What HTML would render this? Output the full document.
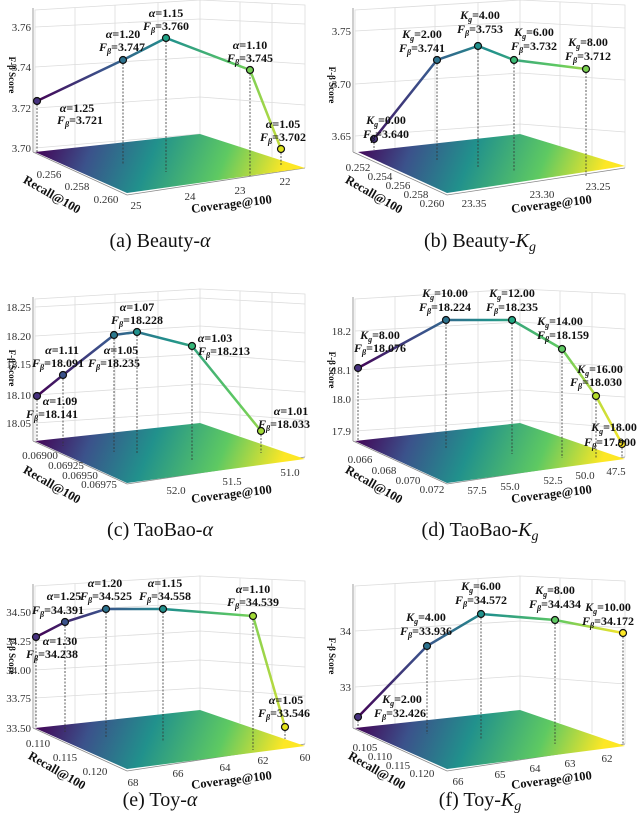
<!DOCTYPE html>
<html><head><meta charset="utf-8"><style>
body{margin:0;background:#fff}
svg{display:block}
text{font-family:"Liberation Serif",serif}
.t{font-size:11px;fill:#333}
.l{font-size:12px;font-weight:bold;fill:#111}
.ax{font-size:12.5px;font-weight:bold;fill:#111}
.zl{font-size:9px;font-weight:bold;fill:#111}
.cap{font-size:20px;fill:#111}
.g{stroke:#dcdcdc;stroke-width:0.8;fill:none}
.d{stroke:#333;stroke-width:0.8;stroke-dasharray:2 1.5;fill:none}
.p{stroke:#111;stroke-width:1.2}
</style></head><body>
<svg width="640" height="834" viewBox="0 0 640 834" xmlns="http://www.w3.org/2000/svg">
<defs>
<linearGradient id="v" gradientUnits="userSpaceOnUse" x1="35" y1="0" x2="305" y2="0">
<stop offset="0" stop-color="#440154"/><stop offset="0.25" stop-color="#3b528b"/><stop offset="0.5" stop-color="#21918c"/><stop offset="0.75" stop-color="#5ec962"/><stop offset="1" stop-color="#fde725"/>
</linearGradient>
<linearGradient id="f" gradientUnits="userSpaceOnUse" x1="40" y1="135" x2="285" y2="235">
<stop offset="0" stop-color="#440154"/><stop offset="0.2" stop-color="#3b528b"/><stop offset="0.42" stop-color="#21918c"/><stop offset="0.68" stop-color="#5ec962"/><stop offset="0.9" stop-color="#fde725"/>
</linearGradient>
<g id="box1">
<path class="g" d="M35,152 L35,10 L200,0 L305,5 L305,168 M200,0 L200,134 M35,10 L200,0"/>
<path class="g" d="M75,148 L75,8 M115,143 L115,5 M158,139 L158,3 M240,147 L240,2 M272,157 L272,4"/>
<path stroke="#888" stroke-width="0.8" fill="none" d="M33,152 L33,8 M33,152 L127,195 L305,168"/>
</g>
</defs>

<!-- Panel a -->
<g transform="translate(0,0)">
<use href="#box1"/>
<path class="g" d="M35,27 L200,19 L305,24 M35,67 L200,57 L305,64 M35,108 L200,97 L305,105 M35,148 L200,134"/>
<polygon points="35,152 200,134 305,168 127,193" fill="url(#f)"/>
<text class="t" x="31" y="31" text-anchor="end">3.76</text>
<text class="t" x="31" y="71" text-anchor="end">3.74</text>
<text class="t" x="31" y="112" text-anchor="end">3.72</text>
<text class="t" x="31" y="152" text-anchor="end">3.70</text>
<text class="zl" transform="translate(9,75) rotate(90)" text-anchor="middle">F-β Score</text>
<path class="d" d="M37,101V152 M123,60V165 M166,38V172 M250,70V176 M281,149V166"/>
<polyline points="37,101 123,60 166,38 250,70 281,149" fill="none" stroke="url(#v)" stroke-width="2.5"/>
<circle class="p" cx="37" cy="101" r="3.5" fill="#46317e"/><circle class="p" cx="123" cy="60" r="3.5" fill="#2c728e"/><circle class="p" cx="166" cy="38" r="3.5" fill="#20a386"/><circle class="p" cx="250" cy="70" r="3.5" fill="#75d054"/><circle class="p" cx="281" cy="149" r="3.5" fill="#dde318"/>
<g class="l" text-anchor="middle">
<text x="77" y="112"><tspan font-style="italic">α</tspan>=1.25</text><text x="80" y="124"><tspan font-style="italic">F</tspan><tspan font-size="8" dy="3" font-style="italic">β</tspan><tspan dy="-3">=3.721</tspan></text>
<text x="123" y="38"><tspan font-style="italic">α</tspan>=1.20</text><text x="122" y="51"><tspan font-style="italic">F</tspan><tspan font-size="8" dy="3" font-style="italic">β</tspan><tspan dy="-3">=3.747</tspan></text>
<text x="166" y="17"><tspan font-style="italic">α</tspan>=1.15</text><text x="166" y="30"><tspan font-style="italic">F</tspan><tspan font-size="8" dy="3" font-style="italic">β</tspan><tspan dy="-3">=3.760</tspan></text>
<text x="250" y="49"><tspan font-style="italic">α</tspan>=1.10</text><text x="250" y="62"><tspan font-style="italic">F</tspan><tspan font-size="8" dy="3" font-style="italic">β</tspan><tspan dy="-3">=3.745</tspan></text>
<text x="283" y="128"><tspan font-style="italic">α</tspan>=1.05</text><text x="283" y="141"><tspan font-style="italic">F</tspan><tspan font-size="8" dy="3" font-style="italic">β</tspan><tspan dy="-3">=3.702</tspan></text>
</g>
<g class="t" text-anchor="middle"><text x="49" y="178">0.256</text><text x="77" y="190">0.258</text><text x="106" y="203">0.260</text>
<text x="136" y="209">25</text><text x="190" y="200">24</text><text x="240" y="194">23</text><text x="285" y="185">22</text></g>
<text class="ax" transform="translate(50,198) rotate(30)" text-anchor="middle">Recall@100</text>
<text class="ax" transform="translate(232,208) rotate(-7)" text-anchor="middle">Coverage@100</text>
<text class="cap" x="160" y="247" text-anchor="middle">(a) Beauty-<tspan font-style="italic">α</tspan></text>
</g>

<!-- Panel b -->
<g transform="translate(320,0)">
<use href="#box1"/>
<path class="g" d="M35,31 L200,22 L305,28 M35,84 L200,73 L305,80 M35,136 L200,124 L305,132"/>
<polygon points="38,152 200,134 305,166 127,193" fill="url(#f)"/>
<text class="t" x="31" y="35" text-anchor="end">3.75</text>
<text class="t" x="31" y="88" text-anchor="end">3.70</text>
<text class="t" x="31" y="140" text-anchor="end">3.65</text>
<text class="zl" transform="translate(9,85) rotate(90)" text-anchor="middle">F-β Score</text>
<path class="d" d="M54,139V150 M117,60V160 M158,46V168 M194,60V172 M266,69V176"/>
<polyline points="54,139 117,60 158,46 194,60 266,69" fill="none" stroke="url(#v)" stroke-width="2.5"/>
<circle class="p" cx="54" cy="139" r="3.5" fill="#46317e"/><circle class="p" cx="117" cy="60" r="3.5" fill="#2c728e"/><circle class="p" cx="158" cy="46" r="3.5" fill="#21918c"/><circle class="p" cx="194" cy="60" r="3.5" fill="#3bbb75"/><circle class="p" cx="266" cy="69" r="3.5" fill="#7ad151"/>
<g class="l" text-anchor="middle">
<text x="66" y="124"><tspan font-style="italic">K</tspan><tspan font-size="8" dy="3" font-style="italic">g</tspan><tspan dy="-3">=0.00</tspan></text><text x="66" y="138"><tspan font-style="italic">F</tspan><tspan font-size="8" dy="3" font-style="italic">β</tspan><tspan dy="-3">=3.640</tspan></text>
<text x="102" y="38"><tspan font-style="italic">K</tspan><tspan font-size="8" dy="3" font-style="italic">g</tspan><tspan dy="-3">=2.00</tspan></text><text x="102" y="52"><tspan font-style="italic">F</tspan><tspan font-size="8" dy="3" font-style="italic">β</tspan><tspan dy="-3">=3.741</tspan></text>
<text x="160" y="19"><tspan font-style="italic">K</tspan><tspan font-size="8" dy="3" font-style="italic">g</tspan><tspan dy="-3">=4.00</tspan></text><text x="160" y="33"><tspan font-style="italic">F</tspan><tspan font-size="8" dy="3" font-style="italic">β</tspan><tspan dy="-3">=3.753</tspan></text>
<text x="214" y="36"><tspan font-style="italic">K</tspan><tspan font-size="8" dy="3" font-style="italic">g</tspan><tspan dy="-3">=6.00</tspan></text><text x="214" y="50"><tspan font-style="italic">F</tspan><tspan font-size="8" dy="3" font-style="italic">β</tspan><tspan dy="-3">=3.732</tspan></text>
<text x="268" y="46"><tspan font-style="italic">K</tspan><tspan font-size="8" dy="3" font-style="italic">g</tspan><tspan dy="-3">=8.00</tspan></text><text x="268" y="60"><tspan font-style="italic">F</tspan><tspan font-size="8" dy="3" font-style="italic">β</tspan><tspan dy="-3">=3.712</tspan></text>
</g>
<g class="t" text-anchor="middle"><text x="38" y="171">0.252</text><text x="60" y="180">0.254</text><text x="78" y="189">0.256</text><text x="96" y="198">0.258</text><text x="112" y="207">0.260</text>
<text x="154" y="207">23.35</text><text x="222" y="198">23.30</text><text x="278" y="190">23.25</text></g>
<text class="ax" transform="translate(52,198) rotate(30)" text-anchor="middle">Recall@100</text>
<text class="ax" transform="translate(232,208) rotate(-7)" text-anchor="middle">Coverage@100</text>
<text class="cap" x="160" y="247" text-anchor="middle">(b) Beauty-<tspan font-style="italic">K</tspan><tspan font-style="italic" font-size="14" dy="4">g</tspan></text>
</g>

<!-- Panel c -->
<g transform="translate(0,278)">
<g transform="translate(0,11)"><use href="#box1"/></g>
<path class="g" d="M35,29 L200,20 L305,26 M35,58 L200,48 L305,55 M35,86 L200,76 L305,84 M35,117 L200,106 L305,114 M35,145 L200,134 L305,142"/>
<g transform="translate(0,11)"><polygon points="35,152 200,134 305,170 127,194" fill="url(#f)"/></g>
<text class="t" x="31" y="33" text-anchor="end">18.25</text>
<text class="t" x="31" y="62" text-anchor="end">18.20</text>
<text class="t" x="31" y="90" text-anchor="end">18.15</text>
<text class="t" x="31" y="121" text-anchor="end">18.10</text>
<text class="t" x="31" y="149" text-anchor="end">18.05</text>
<text class="zl" transform="translate(9,90) rotate(90)" text-anchor="middle">F-β Score</text>
<path class="d" d="M37,118V163 M63,97V168 M114,57V174 M137,54V176 M192,68V182 M261,153V175"/>
<polyline points="37,118 63,97 114,57 137,54 192,68 261,153" fill="none" stroke="url(#v)" stroke-width="2.5"/>
<circle class="p" cx="37" cy="118" r="3.5" fill="#46317e"/><circle class="p" cx="63" cy="97" r="3.5" fill="#3b528b"/><circle class="p" cx="114" cy="57" r="3.5" fill="#2a788e"/><circle class="p" cx="137" cy="54" r="3.5" fill="#21918c"/><circle class="p" cx="192" cy="68" r="3.5" fill="#35b779"/><circle class="p" cx="261" cy="153" r="3.5" fill="#a2da37"/>
<g class="l" text-anchor="middle">
<text x="62" y="76"><tspan font-style="italic">α</tspan>=1.11</text><text x="58" y="89"><tspan font-style="italic">F</tspan><tspan font-size="8" dy="3" font-style="italic">β</tspan><tspan dy="-3">=18.091</tspan></text>
<text x="60" y="127"><tspan font-style="italic">α</tspan>=1.09</text><text x="52" y="140"><tspan font-style="italic">F</tspan><tspan font-size="8" dy="3" font-style="italic">β</tspan><tspan dy="-3">=18.141</tspan></text>
<text x="137" y="33"><tspan font-style="italic">α</tspan>=1.07</text><text x="137" y="46"><tspan font-style="italic">F</tspan><tspan font-size="8" dy="3" font-style="italic">β</tspan><tspan dy="-3">=18.228</tspan></text>
<text x="121" y="76"><tspan font-style="italic">α</tspan>=1.05</text><text x="114" y="89"><tspan font-style="italic">F</tspan><tspan font-size="8" dy="3" font-style="italic">β</tspan><tspan dy="-3">=18.235</tspan></text>
<text x="215" y="64"><tspan font-style="italic">α</tspan>=1.03</text><text x="224" y="77"><tspan font-style="italic">F</tspan><tspan font-size="8" dy="3" font-style="italic">β</tspan><tspan dy="-3">=18.213</tspan></text>
<text x="291" y="137"><tspan font-style="italic">α</tspan>=1.01</text><text x="284" y="150"><tspan font-style="italic">F</tspan><tspan font-size="8" dy="3" font-style="italic">β</tspan><tspan dy="-3">=18.033</tspan></text>
</g>
<g class="t" text-anchor="middle"><text x="40" y="181">0.06900</text><text x="66" y="191">0.06925</text><text x="80" y="201">0.06950</text><text x="99" y="210">0.06975</text>
<text x="176" y="216">52.0</text><text x="232" y="207">51.5</text><text x="290" y="198">51.0</text></g>
<text class="ax" transform="translate(50,210) rotate(30)" text-anchor="middle">Recall@100</text>
<text class="ax" transform="translate(232,220) rotate(-7)" text-anchor="middle">Coverage@100</text>
<text class="cap" x="160" y="258" text-anchor="middle">(c) TaoBao-<tspan font-style="italic">α</tspan></text>
</g>

<!-- Panel d -->
<g transform="translate(320,278)">
<g transform="translate(0,11)"><use href="#box1"/></g>
<path class="g" d="M35,53 L200,44 L305,51 M35,92 L200,82 L305,89 M35,122 L200,112 L305,119 M35,153 L200,142 L305,150"/>
<g transform="translate(0,11)"><polygon points="35,152 200,134 305,170 127,194" fill="url(#f)"/></g>
<text class="t" x="31" y="57" text-anchor="end">18.2</text>
<text class="t" x="31" y="96" text-anchor="end">18.1</text>
<text class="t" x="31" y="125" text-anchor="end">18.0</text>
<text class="t" x="31" y="157" text-anchor="end">17.9</text>
<text class="zl" transform="translate(9,92) rotate(90)" text-anchor="middle">F-β Score</text>
<path class="d" d="M38,90V163 M126,42V170 M192,42V176 M242,71V180 M276,118V181 M302,166V179"/>
<polyline points="38,90 126,42 192,42 242,71 276,118 302,166" fill="none" stroke="url(#v)" stroke-width="2.5"/>
<circle class="p" cx="38" cy="90" r="3.5" fill="#46317e"/><circle class="p" cx="126" cy="42" r="3.5" fill="#2c728e"/><circle class="p" cx="192" cy="42" r="3.5" fill="#22a884"/><circle class="p" cx="242" cy="71" r="3.5" fill="#5ec962"/><circle class="p" cx="276" cy="118" r="3.5" fill="#b5de2b"/><circle class="p" cx="302" cy="166" r="3.5" fill="#fde725"/>
<g class="l" text-anchor="middle">
<text x="60" y="61"><tspan font-style="italic">K</tspan><tspan font-size="8" dy="3" font-style="italic">g</tspan><tspan dy="-3">=8.00</tspan></text><text x="60" y="74"><tspan font-style="italic">F</tspan><tspan font-size="8" dy="3" font-style="italic">β</tspan><tspan dy="-3">=18.076</tspan></text>
<text x="125" y="19"><tspan font-style="italic">K</tspan><tspan font-size="8" dy="3" font-style="italic">g</tspan><tspan dy="-3">=10.00</tspan></text><text x="125" y="33"><tspan font-style="italic">F</tspan><tspan font-size="8" dy="3" font-style="italic">β</tspan><tspan dy="-3">=18.224</tspan></text>
<text x="192" y="19"><tspan font-style="italic">K</tspan><tspan font-size="8" dy="3" font-style="italic">g</tspan><tspan dy="-3">=12.00</tspan></text><text x="192" y="33"><tspan font-style="italic">F</tspan><tspan font-size="8" dy="3" font-style="italic">β</tspan><tspan dy="-3">=18.235</tspan></text>
<text x="240" y="47"><tspan font-style="italic">K</tspan><tspan font-size="8" dy="3" font-style="italic">g</tspan><tspan dy="-3">=14.00</tspan></text><text x="243" y="61"><tspan font-style="italic">F</tspan><tspan font-size="8" dy="3" font-style="italic">β</tspan><tspan dy="-3">=18.159</tspan></text>
<text x="280" y="95"><tspan font-style="italic">K</tspan><tspan font-size="8" dy="3" font-style="italic">g</tspan><tspan dy="-3">=16.00</tspan></text><text x="276" y="108"><tspan font-style="italic">F</tspan><tspan font-size="8" dy="3" font-style="italic">β</tspan><tspan dy="-3">=18.030</tspan></text>
<text x="294" y="153"><tspan font-style="italic">K</tspan><tspan font-size="8" dy="3" font-style="italic">g</tspan><tspan dy="-3">=18.00</tspan></text><text x="290" y="168"><tspan font-style="italic">F</tspan><tspan font-size="8" dy="3" font-style="italic">β</tspan><tspan dy="-3">=17.900</tspan></text>
</g>
<g class="t" text-anchor="middle"><text x="40" y="185">0.066</text><text x="64" y="196">0.068</text><text x="88" y="206">0.070</text><text x="112" y="215">0.072</text>
<text x="157" y="216">57.5</text><text x="190" y="212">55.0</text><text x="233" y="206">52.5</text><text x="265" y="201">50.0</text><text x="296" y="197">47.5</text></g>
<text class="ax" transform="translate(52,210) rotate(30)" text-anchor="middle">Recall@100</text>
<text class="ax" transform="translate(232,220) rotate(-7)" text-anchor="middle">Coverage@100</text>
<text class="cap" x="160" y="258" text-anchor="middle">(d) TaoBao-<tspan font-style="italic">K</tspan><tspan font-style="italic" font-size="14" dy="4">g</tspan></text>
</g>

<!-- Panel e -->
<g transform="translate(0,556)">
<g transform="translate(0,20)"><use href="#box1"/></g>
<path class="g" d="M35,56 L200,47 L305,53 M35,85 L200,75 L305,82 M35,114 L200,104 L305,111 M35,142 L200,132 L305,140"/>
<g transform="translate(0,20)"><polygon points="35,152 200,134 305,170 127,193" fill="url(#f)"/></g>
<text class="t" x="31" y="60" text-anchor="end">34.50</text>
<text class="t" x="31" y="89" text-anchor="end">34.25</text>
<text class="t" x="31" y="118" text-anchor="end">34.00</text>
<text class="t" x="31" y="146" text-anchor="end">33.75</text>
<text class="t" x="31" y="176" text-anchor="end">33.50</text>
<text class="zl" transform="translate(9,100) rotate(90)" text-anchor="middle">F-β Score</text>
<path class="d" d="M36,81V172 M65,66V176 M106,53V182 M163,53V186 M253,60V194 M285,171V183"/>
<polyline points="36,81 65,66 106,53 163,53 253,60 285,171" fill="none" stroke="url(#v)" stroke-width="2.5"/>
<circle class="p" cx="36" cy="81" r="3.5" fill="#46317e"/><circle class="p" cx="65" cy="66" r="3.5" fill="#3b528b"/><circle class="p" cx="106" cy="53" r="3.5" fill="#2c728e"/><circle class="p" cx="163" cy="53" r="3.5" fill="#21918c"/><circle class="p" cx="253" cy="60" r="3.5" fill="#a2da37"/><circle class="p" cx="285" cy="171" r="3.5" fill="#e5e419"/>
<g class="l" text-anchor="middle">
<text x="64" y="44"><tspan font-style="italic">α</tspan>=1.25</text><text x="58" y="58"><tspan font-style="italic">F</tspan><tspan font-size="8" dy="3" font-style="italic">β</tspan><tspan dy="-3">=34.391</tspan></text>
<text x="105" y="31"><tspan font-style="italic">α</tspan>=1.20</text><text x="106" y="44"><tspan font-style="italic">F</tspan><tspan font-size="8" dy="3" font-style="italic">β</tspan><tspan dy="-3">=34.525</tspan></text>
<text x="165" y="31"><tspan font-style="italic">α</tspan>=1.15</text><text x="165" y="44"><tspan font-style="italic">F</tspan><tspan font-size="8" dy="3" font-style="italic">β</tspan><tspan dy="-3">=34.558</tspan></text>
<text x="253" y="37"><tspan font-style="italic">α</tspan>=1.10</text><text x="253" y="50"><tspan font-style="italic">F</tspan><tspan font-size="8" dy="3" font-style="italic">β</tspan><tspan dy="-3">=34.539</tspan></text>
<text x="60" y="89"><tspan font-style="italic">α</tspan>=1.30</text><text x="52" y="102"><tspan font-style="italic">F</tspan><tspan font-size="8" dy="3" font-style="italic">β</tspan><tspan dy="-3">=34.238</tspan></text>
<text x="286" y="148"><tspan font-style="italic">α</tspan>=1.05</text><text x="284" y="161"><tspan font-style="italic">F</tspan><tspan font-size="8" dy="3" font-style="italic">β</tspan><tspan dy="-3">=33.546</tspan></text>
</g>
<g class="t" text-anchor="middle"><text x="38" y="191">0.110</text><text x="65" y="205">0.115</text><text x="95" y="219">0.120</text>
<text x="133" y="230">68</text><text x="178" y="221">66</text><text x="225" y="215">64</text><text x="263" y="208">62</text><text x="305" y="205">60</text></g>
<text class="ax" transform="translate(55,218) rotate(30)" text-anchor="middle">Recall@100</text>
<text class="ax" transform="translate(232,228) rotate(-7)" text-anchor="middle">Coverage@100</text>
<text class="cap" x="160" y="250" text-anchor="middle">(e) Toy-<tspan font-style="italic">α</tspan></text>
</g>

<!-- Panel f -->
<g transform="translate(320,556)">
<g transform="translate(0,20)"><use href="#box1"/></g>
<path class="g" d="M35,75 L200,65 L305,72 M35,131 L200,120 L305,128"/>
<g transform="translate(0,20)"><polygon points="35,152 200,134 305,170 127,193" fill="url(#f)"/></g>
<text class="t" x="31" y="79" text-anchor="end">34</text>
<text class="t" x="31" y="135" text-anchor="end">33</text>
<text class="zl" transform="translate(9,100) rotate(90)" text-anchor="middle">F-β Score</text>
<path class="d" d="M38,161V172 M107,90V178 M161,58V184 M235,64V188 M303,77V189"/>
<polyline points="38,161 107,90 161,58 235,64 303,77" fill="none" stroke="url(#v)" stroke-width="2.5"/>
<circle class="p" cx="38" cy="161" r="3.5" fill="#46317e"/><circle class="p" cx="107" cy="90" r="3.5" fill="#2c728e"/><circle class="p" cx="161" cy="58" r="3.5" fill="#21918c"/><circle class="p" cx="235" cy="64" r="3.5" fill="#5ec962"/><circle class="p" cx="303" cy="77" r="3.5" fill="#fde725"/>
<g class="l" text-anchor="middle">
<text x="82" y="147"><tspan font-style="italic">K</tspan><tspan font-size="8" dy="3" font-style="italic">g</tspan><tspan dy="-3">=2.00</tspan></text><text x="80" y="161"><tspan font-style="italic">F</tspan><tspan font-size="8" dy="3" font-style="italic">β</tspan><tspan dy="-3">=32.426</tspan></text>
<text x="106" y="65"><tspan font-style="italic">K</tspan><tspan font-size="8" dy="3" font-style="italic">g</tspan><tspan dy="-3">=4.00</tspan></text><text x="106" y="79"><tspan font-style="italic">F</tspan><tspan font-size="8" dy="3" font-style="italic">β</tspan><tspan dy="-3">=33.936</tspan></text>
<text x="161" y="34"><tspan font-style="italic">K</tspan><tspan font-size="8" dy="3" font-style="italic">g</tspan><tspan dy="-3">=6.00</tspan></text><text x="161" y="48"><tspan font-style="italic">F</tspan><tspan font-size="8" dy="3" font-style="italic">β</tspan><tspan dy="-3">=34.572</tspan></text>
<text x="235" y="38"><tspan font-style="italic">K</tspan><tspan font-size="8" dy="3" font-style="italic">g</tspan><tspan dy="-3">=8.00</tspan></text><text x="235" y="52"><tspan font-style="italic">F</tspan><tspan font-size="8" dy="3" font-style="italic">β</tspan><tspan dy="-3">=34.434</tspan></text>
<text x="288" y="55"><tspan font-style="italic">K</tspan><tspan font-size="8" dy="3" font-style="italic">g</tspan><tspan dy="-3">=10.00</tspan></text><text x="288" y="69"><tspan font-style="italic">F</tspan><tspan font-size="8" dy="3" font-style="italic">β</tspan><tspan dy="-3">=34.172</tspan></text>
</g>
<g class="t" text-anchor="middle"><text x="45" y="195">0.105</text><text x="60" y="204">0.110</text><text x="78" y="213">0.115</text><text x="102" y="221">0.120</text>
<text x="138" y="229">66</text><text x="180" y="222">65</text><text x="215" y="216">64</text><text x="250" y="211">63</text><text x="287" y="206">62</text></g>
<text class="ax" transform="translate(55,218) rotate(30)" text-anchor="middle">Recall@100</text>
<text class="ax" transform="translate(232,228) rotate(-7)" text-anchor="middle">Coverage@100</text>
<text class="cap" x="160" y="250" text-anchor="middle">(f) Toy-<tspan font-style="italic">K</tspan><tspan font-style="italic" font-size="14" dy="4">g</tspan></text>
</g>
</svg>
</body></html>
